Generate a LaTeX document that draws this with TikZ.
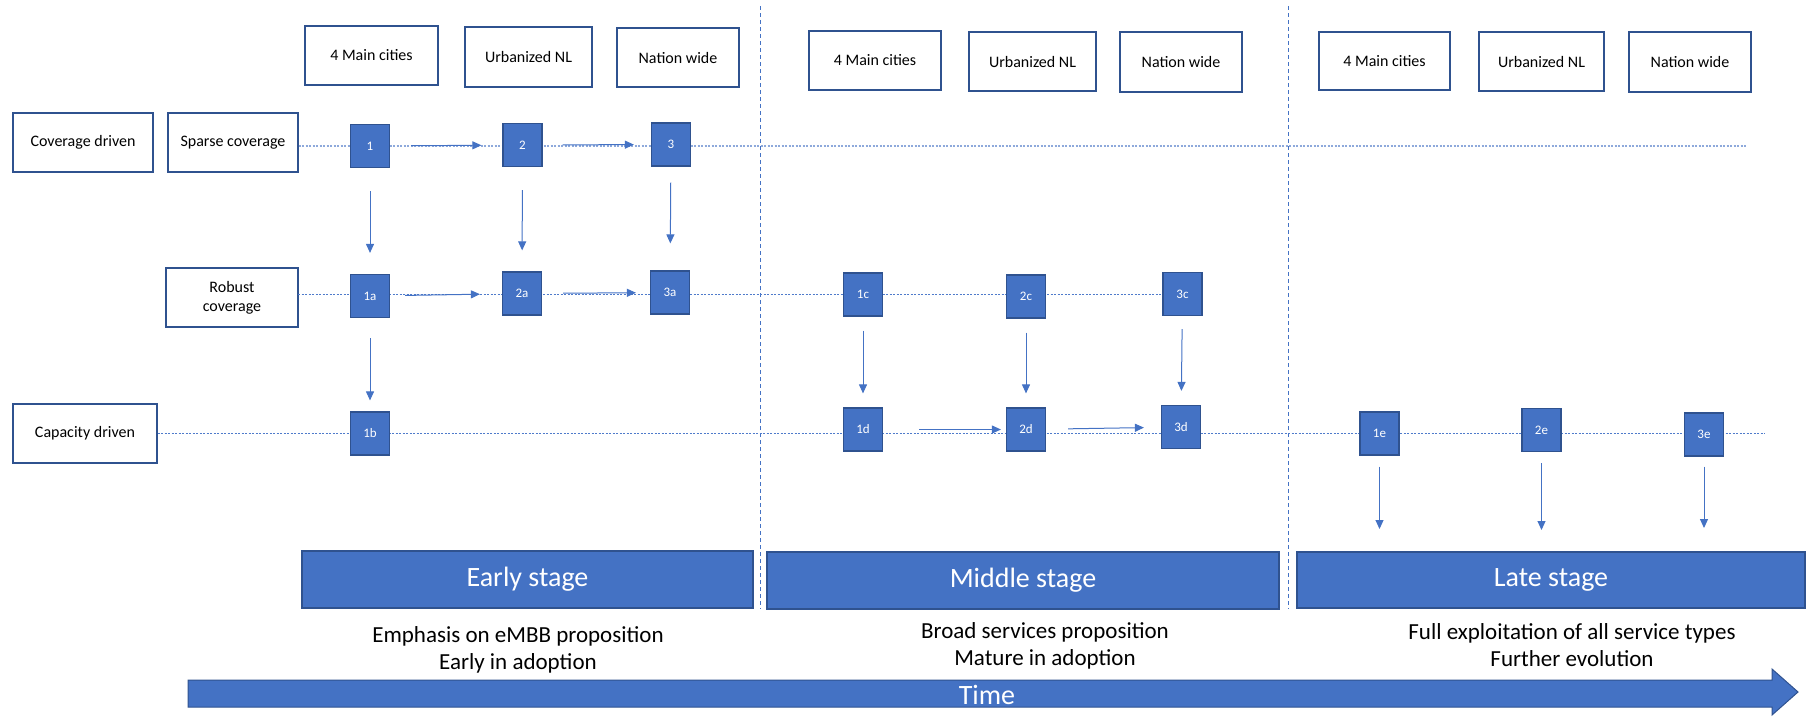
\documentclass[tikz,border=0pt]{standalone}
\usepackage{fontspec}
\setmainfont{Carlito}
\usetikzlibrary{arrows.meta}
\definecolor{obl}{HTML}{4472C4}
\definecolor{obd}{HTML}{2F528F}
\definecolor{dotc}{HTML}{8EA9DB}
\definecolor{dotd}{HTML}{4F7BCB}
\begin{document}
\begin{tikzpicture}[x=1pt,y=-1pt,
 wbox/.style={draw=obd, line width=1.3pt, fill=white, inner sep=0pt, align=center, font=\fontsize{16}{19}\selectfont},
 bbox/.style={draw=obd, line width=1.2pt, fill=obl, text=white, inner sep=0pt, minimum width=39pt, minimum height=43pt, font=\fontsize{13}{15}\selectfont},
 sbox/.style={draw=obd, line width=1.2pt, fill=obl, text=white, inner sep=0pt, font=\fontsize{28}{32}\selectfont},
 guide/.style={draw=dotc, line width=1.1pt, dash pattern=on 2pt off 1.5pt},
 guidedark/.style={draw=dotd, line width=1pt, dash pattern=on 2pt off 1.5pt},
 divider/.style={draw=obl, line width=0.8pt, dash pattern=on 4pt off 3pt},
 arr/.style={draw=obl, line width=1pt, -{Triangle[length=9pt,width=8pt]}},
 note/.style={align=center, font=\fontsize{23}{27}\selectfont}
]
\useasboundingbox (0,0) rectangle (1807,716);

% dividers
\coordinate (d1t) at (760,6); \coordinate (d1b) at (760,609);
\coordinate (d2t) at (1288,6); \coordinate (d2b) at (1288,609);
\draw[divider] (d1t) -- (d1b);
\draw[divider] (d2t) -- (d2b);

% left labels
\node[wbox, minimum width=140pt, minimum height=59pt] (cov) at (83,142.5) {Coverage driven};
\node[wbox, minimum width=130pt, minimum height=59pt] (sparse) at (233,142.5) {Sparse coverage};
\node[wbox, minimum width=132pt, minimum height=59pt] (robust) at (232,297.5) {Robust\\coverage};
\node[wbox, minimum width=144pt, minimum height=59pt] (cap) at (85,433.5) {Capacity driven};

% headers
\node[wbox, minimum width=133pt, minimum height=59pt] (mc1) at (371.5,55.5) {4 Main cities};
\node[wbox, minimum width=127pt, minimum height=60pt] (un1) at (528.5,57) {Urbanized NL};
\node[wbox, minimum width=122pt, minimum height=59pt] (nw1) at (678,57.5) {Nation wide};
\node[wbox, minimum width=132pt, minimum height=59pt] (mc2) at (875,60.5) {4 Main cities};
\node[wbox, minimum width=127pt, minimum height=59pt] (un2) at (1032.5,61.5) {Urbanized NL};
\node[wbox, minimum width=122pt, minimum height=60pt] (nw2) at (1181,62) {Nation wide};
\node[wbox, minimum width=131pt, minimum height=58pt] (mc3) at (1384.5,61) {4 Main cities};
\node[wbox, minimum width=125pt, minimum height=59pt] (un3) at (1541.5,61.5) {Urbanized NL};
\node[wbox, minimum width=122pt, minimum height=60pt] (nw3) at (1690,62) {Nation wide};

% guide lines
\coordinate (g1e) at (1746,146);
\coordinate (g2s) at (298,294);
\coordinate (g3e) at (1765,433.5);
\draw[guide] (sparse.east |- g1e) -- (g1e);
\draw[guidedark] (g2s) -- (1182.5,294);
\draw[guidedark] (cap.east) -- (g3e);

% blue boxes
\node[bbox] (n1) at (370,146) {1};
\node[bbox] (n2) at (522.5,145) {2};
\node[bbox] (n3) at (671,144.5) {3};
\node[bbox] (n1a) at (370,296) {1a};
\node[bbox] (n2a) at (522,293.5) {2a};
\node[bbox] (n3a) at (670,292.5) {3a};
\node[bbox] (n1b) at (370,433.5) {1b};
\node[bbox] (n1c) at (863,294.5) {1c};
\node[bbox] (n2c) at (1026,296.5) {2c};
\node[bbox] (n3c) at (1182.5,294) {3c};
\node[bbox] (n1d) at (863,429.5) {1d};
\node[bbox] (n2d) at (1026,429.5) {2d};
\node[bbox] (n3d) at (1181,427) {3d};
\node[bbox] (n1e) at (1379.5,433.5) {1e};
\node[bbox] (n2e) at (1541.5,430) {2e};
\node[bbox] (n3e) at (1704,434.5) {3e};

% horizontal arrows
\draw[arr, shorten <=21pt, shorten >=21pt] (n1) -- (n2);
\draw[arr, shorten <=20pt, shorten >=17pt] (n2) -- (n3);
\draw[arr, shorten <=15pt, shorten >=22pt] (n1a) -- (n2a);
\draw[arr, shorten <=21pt, shorten >=14pt] (n2a) -- (n3a);
\draw[arr, shorten <=36pt, shorten >=5pt] (n1d) -- (n2d);
\draw[arr, shorten <=22pt, shorten >=17pt] (n2d) -- (n3d);

% vertical arrows
\draw[arr, shorten <=23pt, shorten >=21pt] (n1) -- (n1a);
\draw[arr, shorten <=23pt, shorten >=21pt] (n2) -- (n2a);
\draw[arr, shorten <=16pt, shorten >=27pt] (n3) -- (n3a);
\draw[arr, shorten <=20pt, shorten >=11pt] (n1a) -- (n1b);
\draw[arr, shorten <=14pt, shorten >=14pt] (n1c) -- (n1d);
\draw[arr, shorten <=14pt, shorten >=14pt] (n2c) -- (n2d);
\draw[arr, shorten <=13pt, shorten >=14pt] (n3c) -- (n3d);
\coordinate (e1) at (1379.5,529);
\coordinate (e2) at (1541.5,530);
\coordinate (e3) at (1704,528);
\draw[arr, shorten <=11pt] (n1e) -- (e1);
\draw[arr, shorten <=11pt] (n2e) -- (e2);
\draw[arr, shorten <=10pt] (n3e) -- (e3);

% stage boxes
\node[sbox, minimum width=451pt, minimum height=57pt] (early) at (527.5,579.5) {Early stage};
\node[sbox, minimum width=512pt, minimum height=57pt] (middle) at (1023,580.5) {Middle stage};
\node[sbox, minimum width=508pt, minimum height=56pt] (late) at (1551,580) {Late stage};

% notes
\node[note] (t1) at (518,649.5) {Emphasis on eMBB proposition\\Early in adoption};
\node[note] (t2) at (1045,646) {Broad services proposition\\Mature in adoption};
\node[note] (t3) at (1572,645) {Full exploitation of all service types\\Further evolution};

% time arrow
\filldraw[fill=obl, draw=obd, line width=1pt] (188,680) -- (1772,680) -- (1772,669) -- (1798,692) -- (1772,715) -- (1772,707) -- (188,707) -- cycle;
\node[anchor=base, text=white, inner sep=0pt, font=\fontsize{28}{32}\selectfont] (time) at (987,704) {Time};
\end{tikzpicture}
\end{document}
